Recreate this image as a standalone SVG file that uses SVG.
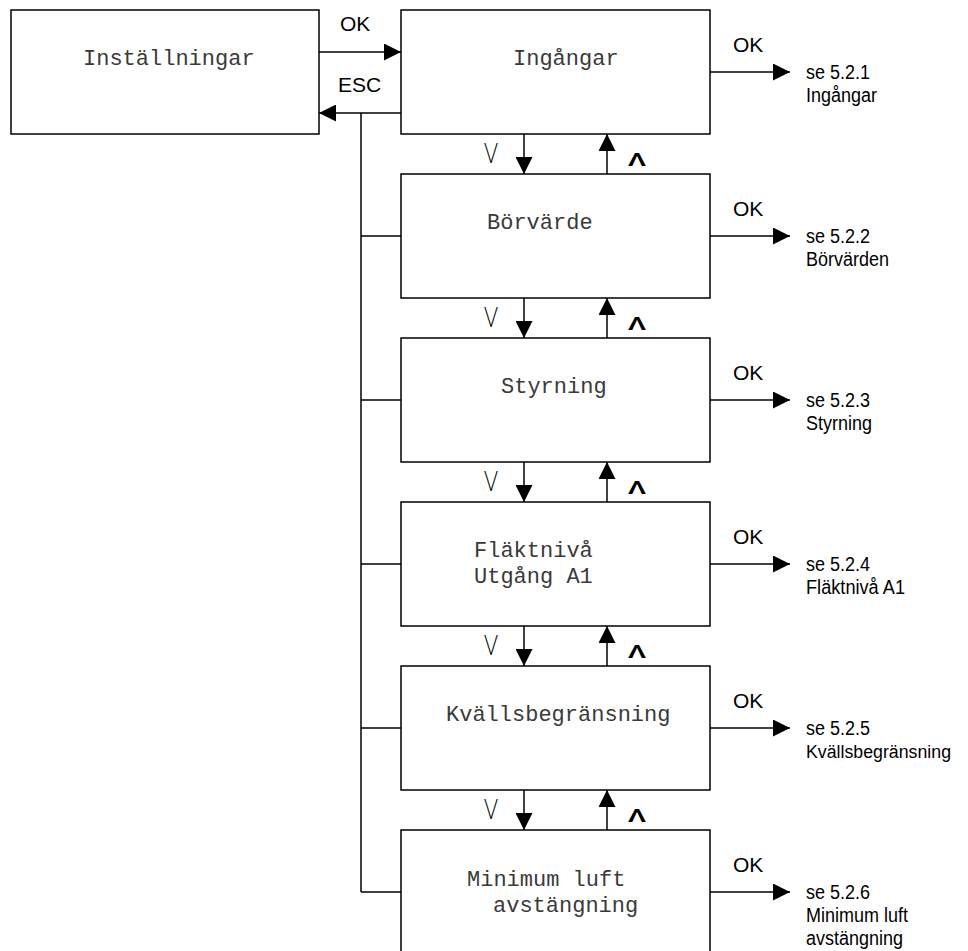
<svg xmlns="http://www.w3.org/2000/svg" width="968" height="951" viewBox="0 0 968 951">
  <style>
    .box { fill: #fff; stroke: #000; stroke-width: 1.5; }
    .line { fill: none; stroke: #000; stroke-width: 1.5; }
    .arr { fill: none; stroke: #000; stroke-width: 1.5; marker-end: url(#head); }
    .mono { font-family: "Liberation Mono", "Courier New", monospace; font-size: 22px; fill: #3a3a3a; }
    .key { font-family: "Liberation Sans", Arial, sans-serif; font-size: 21px; fill: #000; }
    .ref { font-family: "Liberation Sans", Arial, sans-serif; font-size: 20px; fill: #000; }
    .dn { font-family: Lato, "Liberation Sans", sans-serif; font-weight: 300; font-size: 28px; fill: #000; }
    .up { font-family: "Liberation Sans", Arial, sans-serif; font-weight: bold; font-size: 18px; fill: #000; }
  </style>
  <defs>
    <marker id="head" viewBox="0 0 17 17" refX="17" refY="8.5" markerWidth="17" markerHeight="17" markerUnits="userSpaceOnUse" orient="auto">
      <path d="M0,0 L17,8.5 L0,17 z" fill="#000"/>
    </marker>
  </defs>

  <!-- connectors -->
  <g id="connectors">
    <!-- Inställningar <-> Ingångar -->
    <line class="arr" x1="319" y1="52" x2="401" y2="52"/>
    <line class="arr" x1="401" y1="113" x2="319" y2="113"/>
    <!-- ESC bus -->
    <line class="line" x1="361" y1="113" x2="361" y2="892"/>
    <line class="line" x1="361" y1="236" x2="401" y2="236"/>
    <line class="line" x1="361" y1="400" x2="401" y2="400"/>
    <line class="line" x1="361" y1="564" x2="401" y2="564"/>
    <line class="line" x1="361" y1="728" x2="401" y2="728"/>
    <line class="line" x1="361" y1="892" x2="401" y2="892"/>
    <!-- down / up between menu items -->
    <line class="arr" x1="524" y1="134" x2="524" y2="174"/>
    <line class="arr" x1="607" y1="174" x2="607" y2="134"/>
    <line class="arr" x1="524" y1="298" x2="524" y2="338"/>
    <line class="arr" x1="607" y1="338" x2="607" y2="298"/>
    <line class="arr" x1="524" y1="462" x2="524" y2="502"/>
    <line class="arr" x1="607" y1="502" x2="607" y2="462"/>
    <line class="arr" x1="524" y1="626" x2="524" y2="666"/>
    <line class="arr" x1="607" y1="666" x2="607" y2="626"/>
    <line class="arr" x1="524" y1="790" x2="524" y2="830"/>
    <line class="arr" x1="607" y1="830" x2="607" y2="790"/>
    <!-- OK to sub menus -->
    <line class="arr" x1="710" y1="72" x2="790" y2="72"/>
    <line class="arr" x1="710" y1="236" x2="790" y2="236"/>
    <line class="arr" x1="710" y1="400" x2="790" y2="400"/>
    <line class="arr" x1="710" y1="564" x2="790" y2="564"/>
    <line class="arr" x1="710" y1="728" x2="790" y2="728"/>
    <line class="arr" x1="710" y1="892" x2="790" y2="892"/>

    <!-- key labels -->
    <text class="key" x="340" y="31">OK</text>
    <text class="key" x="338" y="92">ESC</text>
    <text class="key" x="733" y="52">OK</text>
    <text class="key" x="733" y="216">OK</text>
    <text class="key" x="733" y="380">OK</text>
    <text class="key" x="733" y="544">OK</text>
    <text class="key" x="733" y="708">OK</text>
    <text class="key" x="733" y="872">OK</text>

    <text class="dn" x="484" y="163" textLength="14" lengthAdjust="spacingAndGlyphs">V</text>
    <text class="dn" x="484" y="327" textLength="14" lengthAdjust="spacingAndGlyphs">V</text>
    <text class="dn" x="484" y="491" textLength="14" lengthAdjust="spacingAndGlyphs">V</text>
    <text class="dn" x="484" y="655" textLength="14" lengthAdjust="spacingAndGlyphs">V</text>
    <text class="dn" x="484" y="819" textLength="14" lengthAdjust="spacingAndGlyphs">V</text>
    <text class="up" x="628" y="166" textLength="18" lengthAdjust="spacingAndGlyphs">Λ</text>
    <text class="up" x="628" y="330" textLength="18" lengthAdjust="spacingAndGlyphs">Λ</text>
    <text class="up" x="628" y="494" textLength="18" lengthAdjust="spacingAndGlyphs">Λ</text>
    <text class="up" x="628" y="658" textLength="18" lengthAdjust="spacingAndGlyphs">Λ</text>
    <text class="up" x="628" y="822" textLength="18" lengthAdjust="spacingAndGlyphs">Λ</text>
  </g>

  <!-- menu nodes -->
  <g id="installningar">
    <rect class="box" x="11" y="10" width="308" height="124"/>
    <text class="mono" x="83" y="65">Inställningar</text>
  </g>
  <g id="ingangar">
    <rect class="box" x="401" y="10" width="309" height="124"/>
    <text class="mono" x="513" y="65">Ingångar</text>
  </g>
  <g id="borvarde">
    <rect class="box" x="401" y="174" width="309" height="124"/>
    <text class="mono" x="487" y="229">Börvärde</text>
  </g>
  <g id="styrning">
    <rect class="box" x="401" y="338" width="309" height="124"/>
    <text class="mono" x="501" y="393">Styrning</text>
  </g>
  <g id="flaktniva">
    <rect class="box" x="401" y="502" width="309" height="124"/>
    <text class="mono" x="474" y="557">Fläktnivå</text>
    <text class="mono" x="474" y="583">Utgång A1</text>
  </g>
  <g id="kvallsbegransning">
    <rect class="box" x="401" y="666" width="309" height="124"/>
    <text class="mono" x="446" y="721">Kvällsbegränsning</text>
  </g>
  <g id="minimum">
    <rect class="box" x="401" y="830" width="309" height="130"/>
    <text class="mono" x="467" y="886">Minimum luft</text>
    <text class="mono" x="493" y="912">avstängning</text>
  </g>

  <!-- sub menu references -->
  <g id="ref-521">
    <text class="ref" x="806" y="79" textLength="64" lengthAdjust="spacingAndGlyphs">se 5.2.1</text>
    <text class="ref" x="806" y="102" textLength="71" lengthAdjust="spacingAndGlyphs">Ingångar</text>
  </g>
  <g id="ref-522">
    <text class="ref" x="806" y="243" textLength="64" lengthAdjust="spacingAndGlyphs">se 5.2.2</text>
    <text class="ref" x="806" y="266" textLength="83" lengthAdjust="spacingAndGlyphs">Börvärden</text>
  </g>
  <g id="ref-523">
    <text class="ref" x="806" y="407" textLength="64" lengthAdjust="spacingAndGlyphs">se 5.2.3</text>
    <text class="ref" x="806" y="430" textLength="66" lengthAdjust="spacingAndGlyphs">Styrning</text>
  </g>
  <g id="ref-524">
    <text class="ref" x="806" y="571" textLength="64" lengthAdjust="spacingAndGlyphs">se 5.2.4</text>
    <text class="ref" x="806" y="594" textLength="99" lengthAdjust="spacingAndGlyphs">Fläktnivå A1</text>
  </g>
  <g id="ref-525">
    <text class="ref" x="806" y="735" textLength="64" lengthAdjust="spacingAndGlyphs">se 5.2.5</text>
    <text class="ref" x="806" y="758" style="font-size:18px" textLength="145" lengthAdjust="spacingAndGlyphs">Kvällsbegränsning</text>
  </g>
  <g id="ref-526">
    <text class="ref" x="806" y="899" textLength="64" lengthAdjust="spacingAndGlyphs">se 5.2.6</text>
    <text class="ref" x="806" y="922" textLength="102" lengthAdjust="spacingAndGlyphs">Minimum luft</text>
    <text class="ref" x="806" y="945" textLength="97" lengthAdjust="spacingAndGlyphs">avstängning</text>
  </g>
</svg>
